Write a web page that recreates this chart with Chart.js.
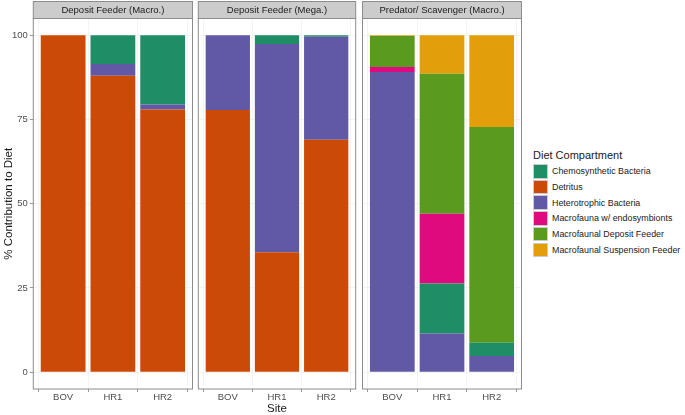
<!DOCTYPE html>
<html>
<head>
<meta charset="utf-8">
<script src="https://cdn.jsdelivr.net/npm/chart.js@4/dist/chart.umd.min.js"></script>
<style>
  body { margin: 0; background: #fff; font-family: "Liberation Sans", Arial, sans-serif; }
  #wrap { position: relative; width: 685px; height: 415px; overflow: hidden; }
  canvas { position: absolute; top: 0; }
  #legend { position: absolute; left: 533px; top: 148.5px; font-size: 8.9px; color: #1a1a1a; white-space: nowrap; }
  #legend .ttl { font-size: 11px; margin-bottom: 3px; }
  #legend .row { display: flex; align-items: center; height: 15.7px; }
  #legend .key { width: 15px; height: 14.5px; margin-right: 4px; box-sizing: border-box; border: 0.5px solid #ccc; }
</style>
</head>
<body>
<div id="wrap">
  <canvas id="p1"></canvas>
  <canvas id="p2"></canvas>
  <canvas id="p3"></canvas>
  <div id="legend"></div>
</div>
<script>
// Data
const sites = ['BOV', 'HR1', 'HR2'];
const panelTitles = ['Deposit Feeder (Macro.)', 'Deposit Feeder (Mega.)', 'Predator/ Scavenger (Macro.)'];
const compartments = ['Chemosynthetic Bacteria', 'Detritus', 'Heterotrophic Bacteria',
  'Macrofauna w/ endosymbionts', 'Macrofaunal Deposit Feeder', 'Macrofaunal Suspension Feeder'];
const yTicks = [0, 25, 50, 75, 100];

// % contribution, one array per compartment, values for BOV, HR1, HR2
const macroDF = {
  chemo:      [0, 8.5, 20.5],
  detritus:   [100, 88, 78],
  hetero:     [0, 3.5, 1.5],
  endosym:    [0, 0, 0],
  depositF:   [0, 0, 0],
  suspF:      [0, 0, 0]
};
const megaDF = {
  chemo:      [0, 2.6, 0.4],
  detritus:   [77.8, 35.6, 69],
  hetero:     [22.2, 61.8, 30.6],
  endosym:    [0, 0, 0],
  depositF:   [0, 0, 0],
  suspF:      [0, 0, 0]
};
const predScav = {
  chemo:      [0, 14.8, 3.9],
  detritus:   [0, 0, 0],
  hetero:     [89.1, 11.5, 4.8],
  endosym:    [1.5, 20.7, 0],
  depositF:   [9.2, 41.6, 64.1],
  suspF:      [0.2, 11.4, 27.2]
};

const colors = {
  chemo: '#1f8e66', detritus: '#cc4a08', hetero: '#6159a5',
  endosym: '#de0a7e', depositF: '#5a9a1e', suspF: '#e29f0b'
};
const keys = ['chemo', 'detritus', 'hetero', 'endosym', 'depositF', 'suspF'];
// bottom-to-top stacking order as in the figure
const stackOrder = ['detritus', 'hetero', 'chemo', 'endosym', 'depositF', 'suspF'];

const FONT = '"Liberation Sans", Arial, sans-serif';
const BORDER = '#8c8c8c';

const stripPlugin = {
  id: 'strip',
  afterDraw(chart, args, opts) {
    const { ctx, chartArea: a } = chart;
    ctx.save();
    ctx.fillStyle = '#cccccc';
    ctx.fillRect(a.left, 1.5, a.right - a.left, a.top - 1.5);
    ctx.strokeStyle = BORDER;
    ctx.lineWidth = 1;
    ctx.strokeRect(a.left, 1.5, a.right - a.left, a.top - 1.5);
    ctx.strokeRect(a.left, a.top, a.right - a.left, a.bottom - a.top);
    ctx.fillStyle = '#1a1a1a';
    ctx.font = '9.5px ' + FONT;
    ctx.textAlign = 'center';
    ctx.textBaseline = 'middle';
    ctx.fillText(opts.text, (a.left + a.right) / 2, (a.top + 1.5) / 2 + 0.5);
    ctx.restore();
  }
};

function buildChart(id, left, width, pad, values, title, idx) {
  const canvas = document.getElementById(id);
  canvas.style.left = left + 'px';
  canvas.width = width;
  canvas.height = 415;
  canvas.style.width = width + 'px';
  canvas.style.height = '415px';
  const first = idx === 0;
  return new Chart(canvas.getContext('2d'), {
    type: 'bar',
    data: {
      datasets: stackOrder.map(k => ({
        label: compartments[keys.indexOf(k)],
        data: values[k].map((v, i) => ({ x: i + 1, y: v })),
        backgroundColor: colors[k],
        borderWidth: 0,
        barPercentage: 0.9,
        categoryPercentage: 1
      }))
    },
    options: {
      responsive: false,
      animation: false,
      layout: { padding: { top: 18.5, left: pad[0], right: pad[1], bottom: 0 } },
      plugins: { legend: { display: false }, tooltip: { enabled: false }, strip: { text: title } },
      scales: {
        x: {
          type: 'linear', stacked: true, min: 0.4, max: 3.6, offset: false,
          afterBuildTicks: s => { s.ticks = sites.map((_, i) => ({ value: i + 1 })); },
          afterFit: s => { s.height = 26; },
          grid: { color: '#ededed', lineWidth: 0.6, tickLength: 3, tickColor: '#555', drawTicks: true },
          border: { display: false },
          ticks: { callback: v => sites[v - 1], color: '#4d4d4d', font: { family: FONT, size: 9.5 }, padding: 0, maxRotation: 0 },
          title: { display: idx === 1, text: 'Site', color: '#1a1a1a', font: { family: FONT, size: 11.5, lineHeight: 1 }, padding: { top: 0, bottom: 0 } }
        },
        y: {
          stacked: true, min: -5, max: 105,
          afterBuildTicks: s => { s.ticks = yTicks.map(v => ({ value: v })); },
          afterFit: s => { s.width = first ? 33.3 : 0; },
          grid: { color: '#ededed', lineWidth: 0.6, tickLength: 3.5, tickColor: '#555', drawTicks: first },
          border: { display: false },
          ticks: { display: first, color: '#4d4d4d', font: { family: FONT, size: 9.5 }, padding: 2 },
          title: { display: first, text: '% Contribution to Diet', color: '#1a1a1a', font: { family: FONT, size: 11.5 }, padding: { top: 2, bottom: 0 } }
        }
      }
    },
    plugins: [stripPlugin]
  });
}

buildChart('p1', 0, 195, [0, 2.5], macroDF, panelTitles[0], 0);
buildChart('p2', 197, 162, [1.3, 3.3], megaDF, panelTitles[1], 1);
buildChart('p3', 361, 163, [1.5, 2.5], predScav, panelTitles[2], 2);

// Legend
const legend = document.getElementById('legend');
legend.innerHTML = '<div class="ttl">Diet Compartment</div>' + keys.map((k, i) =>
  `<div class="row"><span class="key" style="background:${colors[k]}"></span>${compartments[i]}</div>`).join('');
</script>
</body>
</html>
